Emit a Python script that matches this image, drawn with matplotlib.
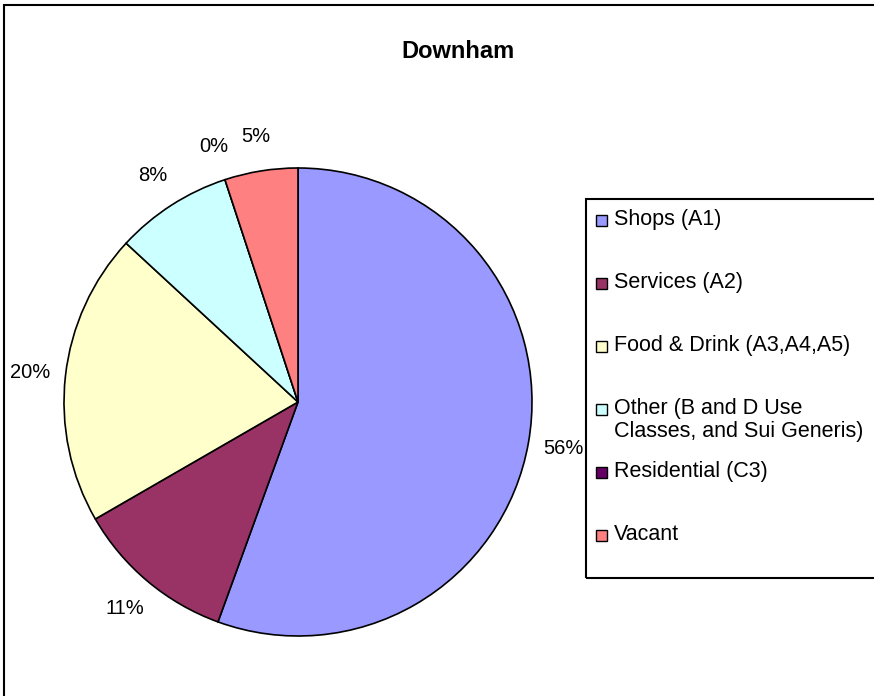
import numpy as np
import matplotlib
matplotlib.use("Agg")
import matplotlib.pyplot as plt
from matplotlib.patches import Rectangle

# --- data ---
categories = ["Shops (A1)", "Services (A2)", "Food & Drink (A3,A4,A5)",
              "Other (B and D Use\nClasses, and Sui Generis)",
              "Residential (C3)", "Vacant"]
units = [55, 11, 20, 8, 0, 5]
colors = ["#9999FF", "#993366", "#FFFFCC", "#CCFFFF", "#660066", "#FF8080"]
title = "Downham"

W, H = 874, 696
plt.rcParams['font.family'] = ['Liberation Sans', 'DejaVu Sans']
fig = plt.figure(figsize=(W / 100, H / 100), dpi=100)

# outer chart frame (right/bottom edges fall outside the picture)
fig.patches.append(Rectangle((4 / W, -0.1), 1.2, (H - 5) / H + 0.1,
                             transform=fig.transFigure, fill=False,
                             edgecolor="black", linewidth=1.5))

fig.text(458 / W, 1 - 52 / H, title, ha="center", va="center",
         fontsize=17, fontweight="bold")

# pie: centre (298, 402), radius 234 px
cx, cy, r = 298, 402, 234
ax = fig.add_axes([(cx - r) / W, (H - cy - r) / H, 2 * r / W, 2 * r / H])
total = sum(units)
pct_labels = [f"{v / total * 100:.0f}%" for v in units]
wedges, texts = ax.pie(units, colors=colors, startangle=90, counterclock=False,
                       labels=pct_labels, labeldistance=1.15,
                       wedgeprops=dict(edgecolor="black", linewidth=1.2),
                       textprops=dict(fontsize=14.5))
for t in texts:
    t.set_horizontalalignment("center")
    t.set_verticalalignment("center")
ax.set_xlim(-1, 1)
ax.set_ylim(-1, 1)
ax.set_aspect("auto")
ax.axis("off")

# legend box
lx, ly, lb = 586, 199, 578
fig.patches.append(Rectangle((lx / W, 1 - lb / H), 1.0, (lb - ly) / H,
                             transform=fig.transFigure, fill=False,
                             edgecolor="black", linewidth=1.5))
row_y = 220
for name, col in zip(categories, colors):
    fig.patches.append(Rectangle((596 / W, 1 - (row_y + 5.5) / H), 11 / W, 11 / H,
                                 transform=fig.transFigure, facecolor=col,
                                 edgecolor="black", linewidth=1))
    if "\n" in name:
        fig.text(614 / W, 1 - (row_y - 11) / H, name, ha="left", va="top",
                 fontsize=15.5, linespacing=1.15)
    else:
        fig.text(614 / W, 1 - row_y / H, name, ha="left", va="center",
                 fontsize=15.5)
    row_y += 63

fig.savefig("out.png", dpi=100)
